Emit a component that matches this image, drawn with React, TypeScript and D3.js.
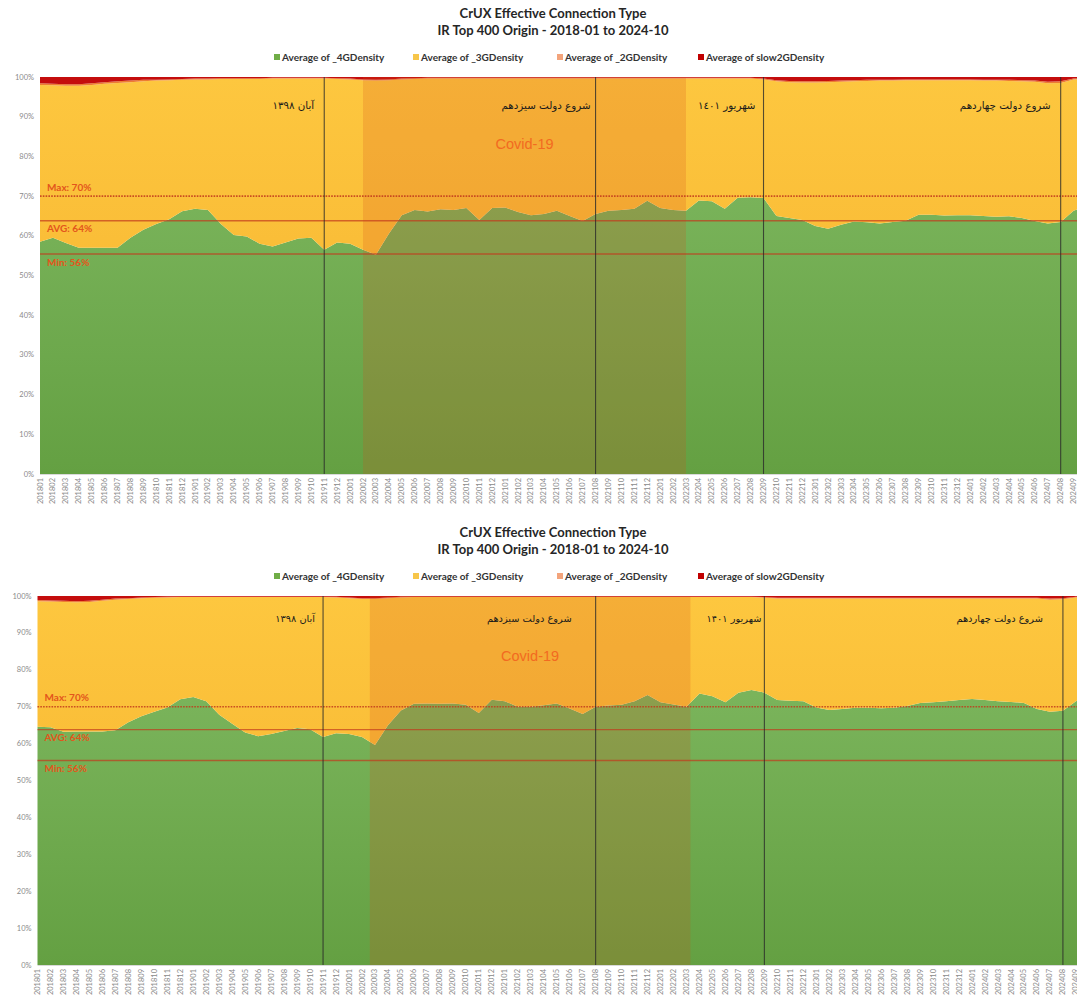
import React, { useEffect } from "react";
import * as d3 from "d3";

// ---------- DATA ----------
const categories = [
  "201801","201802","201803","201804","201805","201806","201807","201808","201809","201810","201811","201812",
  "201901","201902","201903","201904","201905","201906","201907","201908","201909","201910","201911","201912",
  "202001","202002","202003","202004","202005","202006","202007","202008","202009","202010","202011","202012",
  "202101","202102","202103","202104","202105","202106","202107","202108","202109","202110","202111","202112",
  "202201","202202","202203","202204","202205","202206","202207","202208","202209","202210","202211","202212",
  "202301","202302","202303","202304","202305","202306","202307","202308","202309","202310","202311","202312",
  "202401","202402","202403","202404","202405","202406","202407","202408","202409","202410",
];

const seriesKeys = ["g4", "g3", "g2", "s2"];
const seriesNames = ["Average of _4GDensity", "Average of _3GDensity", "Average of _2GDensity", "Average of slow2GDensity"];
const legendColors = ["#70ad47", "#f7c64a", "#f3a47c", "#c00000"];

const yTicks = [0, 10, 20, 30, 40, 50, 60, 70, 80, 90, 100];

// Chart 1 (top)
const fourG1 = [
  58.5, 59.5, 58.2, 57.0, 57.0, 57.0, 57.0, 59.5, 61.5, 63.0, 64.2, 66.2,
  66.8, 66.5, 63.0, 60.2, 59.8, 58.0, 57.3, 58.3, 59.3, 59.5, 56.5, 58.3,
  58.0, 56.5, 55.2, 60.5, 65.2, 66.5, 66.1, 66.7, 66.5, 67.0, 64.0, 67.0,
  67.1, 66.0, 65.2, 65.5, 66.3, 65.0, 63.7, 65.5, 66.3, 66.5, 66.8, 68.8,
  67.0, 66.5, 66.3, 68.9, 68.7, 66.8, 69.6, 69.7, 69.5, 65.0, 64.5, 64.0,
  62.5, 61.8, 62.8, 63.6, 63.4, 63.1, 63.5, 63.8, 65.3, 65.3, 65.1, 65.2,
  65.2, 65.0, 64.8, 64.9, 64.5, 63.7, 63.1, 63.5, 66.3, 67.5,
];
const threeG1 = [
  39.5, 38.4, 39.6, 40.8, 41.0, 41.3, 41.5, 39.2, 37.4, 36.1, 35.0, 33.1,
  32.6, 32.9, 36.5, 39.3, 39.7, 41.5, 42.3, 41.3, 40.3, 40.1, 43.1, 41.2,
  41.4, 42.7, 43.9, 38.7, 34.2, 33.0, 33.5, 32.9, 33.1, 32.6, 35.6, 32.6,
  32.5, 33.6, 34.4, 34.1, 33.3, 34.6, 35.9, 34.1, 33.3, 33.1, 32.8, 30.8,
  32.6, 33.1, 33.3, 30.7, 30.9, 32.8, 30.0, 29.9, 29.9, 33.9, 34.2, 34.6,
  36.1, 36.9, 36.0, 35.3, 35.6, 36.0, 35.6, 35.4, 33.9, 33.9, 34.1, 34.0,
  34.0, 34.1, 34.3, 34.1, 34.4, 35.1, 35.3, 35.0, 33.1, 32.0,
];
const twoG1 = [
  0.4, 0.4, 0.4, 0.4, 0.4, 0.4, 0.4, 0.4, 0.4, 0.2, 0.2, 0.2,
  0.2, 0.2, 0.2, 0.2, 0.2, 0.2, 0.2, 0.2, 0.2, 0.2, 0.2, 0.2,
  0.2, 0.2, 0.2, 0.2, 0.2, 0.2, 0.2, 0.2, 0.2, 0.2, 0.2, 0.2,
  0.2, 0.2, 0.2, 0.2, 0.2, 0.2, 0.2, 0.2, 0.2, 0.2, 0.2, 0.2,
  0.2, 0.2, 0.2, 0.2, 0.2, 0.2, 0.2, 0.2, 0.2, 0.3, 0.3, 0.3,
  0.3, 0.3, 0.3, 0.3, 0.3, 0.2, 0.2, 0.2, 0.2, 0.2, 0.2, 0.2,
  0.2, 0.2, 0.2, 0.3, 0.3, 0.3, 0.4, 0.4, 0.2, 0.2,
];
const slow2G1 = [
  1.6, 1.7, 1.8, 1.8, 1.6, 1.3, 1.1, 0.9, 0.7, 0.7, 0.6, 0.5,
  0.4, 0.4, 0.3, 0.3, 0.3, 0.3, 0.2, 0.2, 0.2, 0.2, 0.2, 0.3,
  0.4, 0.6, 0.7, 0.6, 0.4, 0.3, 0.2, 0.2, 0.2, 0.2, 0.2, 0.2,
  0.2, 0.2, 0.2, 0.2, 0.2, 0.2, 0.2, 0.2, 0.2, 0.2, 0.2, 0.2,
  0.2, 0.2, 0.2, 0.2, 0.2, 0.2, 0.2, 0.2, 0.4, 0.8, 1.0, 1.1,
  1.1, 1.0, 0.9, 0.8, 0.7, 0.7, 0.7, 0.6, 0.6, 0.6, 0.6, 0.6,
  0.6, 0.7, 0.7, 0.7, 0.8, 0.9, 1.2, 1.1, 0.4, 0.3,
];

// Chart 2 (bottom)
const fourG2 = [
  64.6, 64.4, 63.2, 63.3, 63.3, 63.3, 63.6, 65.8, 67.4, 68.6, 69.8, 72.0,
  72.6, 71.5, 67.8, 65.4, 63.0, 62.0, 62.6, 63.4, 64.2, 63.9, 61.8, 62.8,
  62.6, 61.8, 59.6, 65.0, 69.0, 70.8, 70.9, 70.8, 70.9, 70.5, 68.3, 71.9,
  71.5, 70.0, 70.0, 70.4, 70.9, 69.5, 68.0, 70.0, 70.3, 70.5, 71.5, 73.2,
  71.2, 70.6, 70.0, 73.6, 72.8, 71.2, 73.8, 74.5, 73.8, 71.8, 71.6, 71.5,
  69.8, 69.1, 69.4, 69.7, 69.7, 69.6, 69.7, 70.2, 71.0, 71.2, 71.5, 71.8,
  72.1, 71.8, 71.5, 71.3, 71.0, 69.4, 68.6, 68.9, 71.5, 72.5,
];
const threeG2 = [
  34.0, 34.1, 35.2, 35.0, 35.1, 35.4, 35.4, 33.4, 32.0, 30.9, 29.8, 27.7,
  27.1, 28.2, 31.9, 34.3, 36.7, 37.7, 37.1, 36.3, 35.5, 35.8, 37.9, 36.8,
  36.8, 37.4, 39.6, 34.4, 30.6, 28.9, 28.8, 28.9, 28.8, 29.2, 31.4, 27.8,
  28.2, 29.7, 29.7, 29.3, 28.8, 30.2, 31.7, 29.7, 29.4, 29.2, 28.2, 26.5,
  28.5, 29.1, 29.7, 26.1, 26.9, 28.5, 25.9, 25.2, 25.7, 27.5, 27.7, 27.8,
  29.5, 30.2, 29.9, 29.6, 29.6, 29.7, 29.6, 29.1, 28.3, 28.1, 27.8, 27.5,
  27.2, 27.5, 27.8, 28.0, 28.3, 29.9, 30.4, 30.2, 28.1, 27.2,
];
const twoG2 = [
  0.3, 0.3, 0.3, 0.3, 0.3, 0.3, 0.3, 0.2, 0.2, 0.2, 0.2, 0.1,
  0.1, 0.1, 0.1, 0.1, 0.1, 0.1, 0.1, 0.1, 0.1, 0.1, 0.1, 0.2,
  0.2, 0.2, 0.2, 0.2, 0.2, 0.1, 0.1, 0.1, 0.1, 0.1, 0.1, 0.1,
  0.1, 0.1, 0.1, 0.1, 0.1, 0.1, 0.1, 0.1, 0.1, 0.1, 0.1, 0.1,
  0.1, 0.1, 0.1, 0.1, 0.1, 0.1, 0.1, 0.1, 0.2, 0.2, 0.2, 0.2,
  0.2, 0.2, 0.2, 0.2, 0.2, 0.2, 0.2, 0.2, 0.2, 0.2, 0.2, 0.2,
  0.2, 0.2, 0.2, 0.2, 0.2, 0.2, 0.3, 0.3, 0.2, 0.1,
];
const slow2G2 = [
  1.1, 1.2, 1.3, 1.4, 1.3, 1.0, 0.7, 0.6, 0.4, 0.3, 0.2, 0.2,
  0.2, 0.2, 0.2, 0.2, 0.2, 0.2, 0.2, 0.2, 0.2, 0.2, 0.2, 0.2,
  0.4, 0.6, 0.6, 0.4, 0.2, 0.2, 0.2, 0.2, 0.2, 0.2, 0.2, 0.2,
  0.2, 0.2, 0.2, 0.2, 0.2, 0.2, 0.2, 0.2, 0.2, 0.2, 0.2, 0.2,
  0.2, 0.2, 0.2, 0.2, 0.2, 0.2, 0.2, 0.2, 0.3, 0.5, 0.5, 0.5,
  0.5, 0.5, 0.5, 0.5, 0.5, 0.5, 0.5, 0.5, 0.5, 0.5, 0.5, 0.5,
  0.5, 0.5, 0.5, 0.5, 0.5, 0.5, 0.7, 0.6, 0.2, 0.2,
];

const refLines = [
  { label: "Max: 70%", value: 70, kind: "max" },
  { label: "AVG: 64%", value: 63.8, kind: "avg" },
  { label: "Min: 56%", value: 55.4, kind: "min" },
];

const events1 = [
  { cat: "201911", text: "آبان ١٣٩٨" },
  { cat: "202108", text: "شروع دولت سیزدهم" },
  { cat: "202209", text: "شهریور ١٤٠١" },
  { cat: "202408", text: "شروع دولت چهاردهم" },
];
const events2 = [
  { cat: "201911", text: "آبان ۱۳۹۸" },
  { cat: "202108", text: "شروع دولت سیزدهم" },
  { cat: "202209", text: "شهریور ۱۴۰۱" },
  { cat: "202408", text: "شروع دولت چهاردهم" },
];

// covid band in month positions (index along the category axis)
const covid1 = { from: 25, to: 50, label: "Covid-19" };
const covid2 = { from: 25.6, to: 50.3, label: "Covid-19" };

const titleLines = ["CrUX Effective Connection Type", "IR Top 400 Origin - 2018-01 to 2024-10"];

// ---------- LAYOUT ----------
const layout1 = {
  id: "c1", titleY: [13, 30], legendY: 57, legendX: [274, 413, 557, 698],
  top: 77, bottom: 474, left: 40, step: 12.92,
  eventY: 105, eventGap: [10, 5, 8, 10], eventFont: 10.3, covidY: 144,
};
const layout2 = {
  id: "c2", titleY: [532, 549], legendY: 576, legendX: [274, 413, 557, 698],
  top: 596, bottom: 965, left: 37.5, step: 12.98,
  eventY: 618, eventGap: [8, 24, 3, 20], eventFont: 9.8, covidY: 656,
};

const FONT = "Lato, 'Open Sans', sans-serif";
const FA_FONT = "'DejaVu Sans', sans-serif";

function Chart({ L, series, events, covid }: any) {
  const n = categories.length;
  const x = d3.scaleLinear().domain([0, n - 1]).range([L.left, L.left + L.step * (n - 1)]);
  const y = d3.scaleLinear().domain([0, 100]).range([L.bottom, L.top]);
  const rows = categories.map((c, i) => ({
    cat: c, g4: series[0][i], g3: series[1][i], g2: series[2][i], s2: series[3][i],
  }));
  const stacked = d3.stack<any>().keys(seriesKeys)(rows);
  const area = d3
    .area<any>()
    .x((_d: any, i: number) => x(i))
    .y0((d: any) => y(d[0]))
    .y1((d: any) => y(d[1]));
  const fills = [`url(#${L.id}-green)`, `url(#${L.id}-yellow)`, "#ed7d31", "#c40d0d"];
  const xEnd = x(n - 1);
  const cx = (x(covid.from) + x(covid.to)) / 2;

  return (
    <g>
      <defs>
        <linearGradient id={`${L.id}-green`} gradientUnits="userSpaceOnUse" x1="0" x2="0" y1={L.top} y2={L.bottom}>
          <stop offset="0" stopColor="#82bb64" />
          <stop offset="1" stopColor="#64a042" />
        </linearGradient>
        <linearGradient id={`${L.id}-yellow`} gradientUnits="userSpaceOnUse" x1="0" x2="0" y1={L.top} y2={L.bottom}>
          <stop offset="0" stopColor="#fdc73f" />
          <stop offset="1" stopColor="#f6b12e" />
        </linearGradient>
      </defs>

      {/* titles */}
      {titleLines.map((t, i) => (
        <text key={t} x={553} y={L.titleY[i]} textAnchor="middle" dominantBaseline="central"
          fontFamily={FONT} fontWeight={700} fontSize={13} fill="#262626">{t}</text>
      ))}

      {/* legend */}
      {seriesNames.map((name, i) => (
        <g key={name}>
          <rect x={L.legendX[i]} y={L.legendY - 3} width={6} height={6} fill={legendColors[i]} />
          <text x={L.legendX[i] + 8} y={L.legendY} dominantBaseline="central" fontFamily={FONT}
            fontWeight={700} fontSize={10} fill="#333333">{name}</text>
        </g>
      ))}

      {/* y tick labels */}
      {yTicks.map((t) => (
        <text key={t} x={L.left - 6} y={y(t)} textAnchor="end" dominantBaseline="central"
          fontFamily={FONT} fontSize={7.5} fill="#8a8a8a">{t + "%"}</text>
      ))}

      {/* stacked areas */}
      {stacked.map((s: any, i: number) => (
        <path key={s.key} d={area(s) || ""} fill={fills[i]} />
      ))}

      {/* covid shading */}
      <rect x={x(covid.from)} y={L.top} width={x(covid.to) - x(covid.from)} height={L.bottom - L.top}
        fill="rgb(215,73,25)" fillOpacity={0.2} />

      {/* axis line */}
      <line x1={L.left} x2={xEnd} y1={L.bottom + 0.5} y2={L.bottom + 0.5} stroke="#d9d9d9" strokeWidth={1} />

      {/* reference lines */}
      {refLines.map((r) => {
        const yy = y(r.value);
        return (
          <g key={r.kind}>
            <line x1={L.left} x2={xEnd} y1={yy} y2={yy}
              stroke="#c23a1c" strokeOpacity={r.kind === "max" ? 0.85 : 0.7}
              strokeWidth={r.kind === "max" ? 1.6 : 1.4}
              strokeDasharray={r.kind === "max" ? "1.6 1.2" : undefined} />
            <text x={L.left + 7} y={r.kind === "max" ? yy - 5.5 : yy + 11.5}
              fontFamily={FONT} fontWeight={700} fontSize={10} fill="#e3561c">{r.label}</text>
          </g>
        );
      })}

      {/* event lines */}
      {events.map((e: any, i: number) => {
        const xi = x(categories.indexOf(e.cat));
        return (
          <g key={e.cat}>
            <line x1={xi} x2={xi} y1={L.top} y2={L.bottom} stroke="#2b2b2b" strokeOpacity={0.8} strokeWidth={1.1} />
            <text x={xi - L.eventGap[i]} y={L.eventY} textAnchor="end" dominantBaseline="central"
              fontFamily={FA_FONT} fontSize={L.eventFont} fill="#1a1a1a">{e.text}</text>
          </g>
        );
      })}

      {/* covid label */}
      <text x={cx} y={L.covidY} textAnchor="middle" dominantBaseline="central"
        fontFamily="'Liberation Sans', Arial, sans-serif" fontSize={14.5} fill="#f26a21">{covid.label}</text>

      {/* x tick labels */}
      {categories.map((c, i) => (
        <text key={c} transform={`translate(${x(i)},${L.bottom + 4}) rotate(-90)`} textAnchor="end"
          dominantBaseline="central" fontFamily={FONT} fontSize={7.5} fill="#8a8a8a">{c}</text>
      ))}
    </g>
  );
}

export default function App() {
  useEffect(() => {
    document.body.style.margin = "0";
  }, []);
  return (
    <svg width={1077} height={1000} viewBox="0 0 1077 1000"
      style={{ position: "absolute", left: 0, top: 0, display: "block", background: "#ffffff" }}>
      <rect x={0} y={0} width={1077} height={1000} fill="#ffffff" />
      <Chart L={layout1} series={[fourG1, threeG1, twoG1, slow2G1]} events={events1} covid={covid1} />
      <Chart L={layout2} series={[fourG2, threeG2, twoG2, slow2G2]} events={events2} covid={covid2} />
    </svg>
  );
}
